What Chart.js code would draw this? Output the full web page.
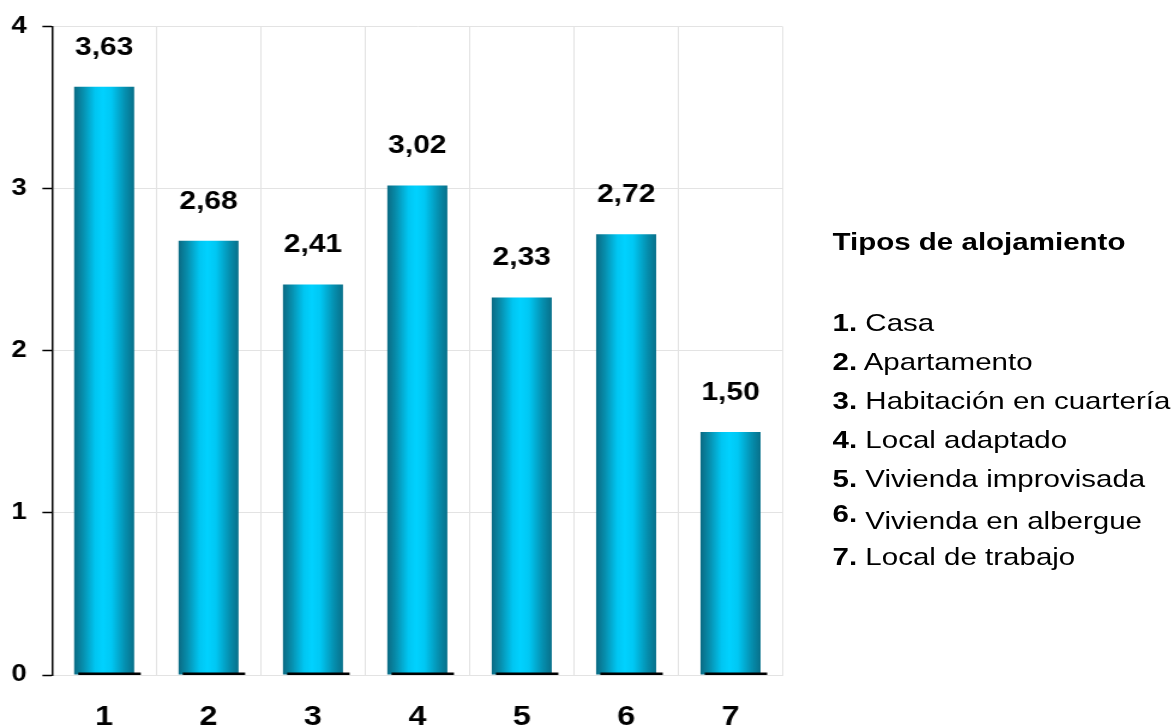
<!DOCTYPE html>
<html>
<head>
<meta charset="utf-8">
<script src="https://cdn.jsdelivr.net/npm/chart.js@4.4.0/dist/chart.umd.min.js"></script>
<style>
html,body{margin:0;padding:0;background:#fff;overflow:hidden;width:1172px;height:728px;}
#stage{position:absolute;left:0;top:0;width:977px;height:728px;transform:scaleX(1.19959);transform-origin:0 0;}
#wrap{position:absolute;left:0;top:0;width:977px;height:728px;}
#legend{position:absolute;left:694px;top:222px;font-family:'Liberation Sans',Arial,sans-serif;color:#000;}
#legend .title{font-weight:bold;font-size:24.6px;line-height:39px;white-space:nowrap;}
#legend ul{list-style:none;margin:42px 0 0 0;padding:0;}
#legend li{font-size:24.6px;line-height:39px;white-space:nowrap;}
#legend li b{font-weight:bold;}
</style>
</head>
<body>
<div id="stage">
  <div id="wrap"><canvas id="c"></canvas></div>
  <div id="legend">
    <div class="title" id="legendTitle"></div>
    <ul id="legendList"></ul>
  </div>
</div>
<script>
// ---- data ----
const categories = ['1', '2', '3', '4', '5', '6', '7'];
const values = [3.63, 2.68, 2.41, 3.02, 2.33, 2.72, 1.50];
const valueLabels = ['3,63', '2,68', '2,41', '3,02', '2,33', '2,72', '1,50'];
const yTickValues = [0, 1, 2, 3, 4];
const legendTitle = 'Tipos de alojamiento';
const legendNames = ['Casa', 'Apartamento', 'Habitación en cuartería', 'Local adaptado',
                     'Vivienda improvisada', 'Vivienda en albergue', 'Local de trabajo'];

// ---- legend (real text) ----
document.getElementById('legendTitle').textContent = legendTitle;
const ul = document.getElementById('legendList');
legendNames.forEach((name, i) => {
  const li = document.createElement('li');
  const b = document.createElement('b');
  b.textContent = categories[i] + '.';
  const s = document.createElement('span');
  s.textContent = ' ' + name;
  if (i === 5) {
    b.style.position = 'relative'; b.style.top = '-4px';
    s.style.position = 'relative'; s.style.top = '3px';
  }
  li.appendChild(b); li.appendChild(s);
  ul.appendChild(li);
});

const FONT = "'Liberation Sans', Arial, sans-serif";

const barStyle = {
  id: 'barStyle',
  beforeDatasetsDraw(chart) {
    const ctx = chart.ctx;
    chart.getDatasetMeta(0).data.forEach(bar => {
      const l = bar.x - bar.width / 2, r = bar.x + bar.width / 2;
      const g = ctx.createLinearGradient(l, 0, r, 0);
      g.addColorStop(0.00, '#0a6a83');
      g.addColorStop(0.15, '#078fae');
      g.addColorStop(0.35, '#00c6f2');
      g.addColorStop(0.48, '#00d2ff');
      g.addColorStop(0.62, '#00c8f4');
      g.addColorStop(0.85, '#058faf');
      g.addColorStop(1.00, '#08708a');
      bar.options = Object.assign({}, bar.options, { backgroundColor: g });
    });
  },
  afterDatasetsDraw(chart) {
    const ctx = chart.ctx;
    const meta = chart.getDatasetMeta(0);
    ctx.save();
    meta.data.forEach((bar, i) => {
      const l = bar.x - bar.width / 2;
      ctx.fillStyle = '#000';
      ctx.fillRect(l + 3.5, bar.base - 2, bar.width + 2, 2.5);
      ctx.font = 'bold 25px ' + FONT;
      ctx.textAlign = 'center';
      ctx.textBaseline = 'middle';
      ctx.fillStyle = '#000';
      ctx.fillText(valueLabels[i], bar.x, bar.y - 39);
    });
    ctx.restore();
  }
};

new Chart(document.getElementById('c'), {
  type: 'bar',
  data: {
    labels: categories,
    datasets: [{
      data: values,
      backgroundColor: '#00c8f4',
      borderWidth: 0,
      categoryPercentage: 1.0,
      barPercentage: 0.575
    }]
  },
  options: {
    responsive: true,
    maintainAspectRatio: false,
    animation: false,
    events: [],
    layout: { padding: { top: 25, right: 324.5, bottom: 0, left: 0 } },
    plugins: { legend: { display: false }, tooltip: { enabled: false } },
    scales: {
      x: {
        afterFit(s) { s.height = 53; },
        grid: { color: '#e3e3e3', lineWidth: 1, drawTicks: false, offset: true },
        border: { color: '#e3e3e3', width: 1 },
        ticks: { color: '#000', padding: 26, font: { family: FONT, size: 27, weight: 'bold' } }
      },
      y: {
        min: 0, max: 4,
        afterFit(s) { s.width = 43.3; },
        afterBuildTicks(s) { s.ticks = yTickValues.map(v => ({ value: v })); },
        grid: { color: '#e3e3e3', lineWidth: 1, tickLength: 8, tickColor: '#000', tickWidth: 1.5 },
        border: { color: '#000', width: 1.5 },
        ticks: { color: '#000', padding: 13, font: { family: FONT, size: 23, weight: 'bold' } }
      }
    }
  },
  plugins: [barStyle]
});
</script>
</body>
</html>
